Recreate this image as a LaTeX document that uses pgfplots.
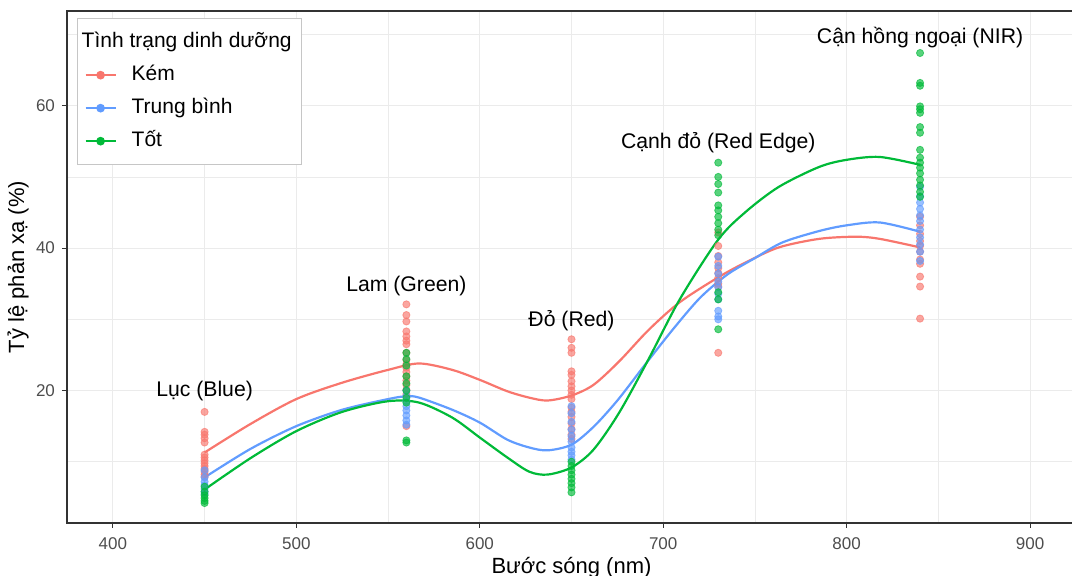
\documentclass[border=0pt]{standalone}
\usepackage{pgfplots}
\pgfplotsset{compat=1.18}
\usepackage{fontspec}
\setmainfont{Liberation Sans}

\definecolor{kem}{HTML}{F8766D}
\definecolor{tb}{HTML}{619CFF}
\definecolor{tot}{HTML}{00BA38}
\definecolor{gridc}{HTML}{EBEBEB}
\definecolor{framec}{HTML}{333333}
\definecolor{tickc}{HTML}{4D4D4D}

\begin{document}
\begin{tikzpicture}
\useasboundingbox (-33.5pt,-26.5pt) rectangle (502.5pt,261.5pt);
\begin{axis}[
    at={(0,0)}, anchor=south west,
    scale only axis,
    width=504.5pt, height=256pt,
    xmin=375, xmax=925,
    ymin=1.4, ymax=73.3,
    xtick={400,500,...,900},
    ytick={20,40,60},
    minor xtick={450,550,...,850},
    minor ytick={10,30,50,70},
    grid=both,
    major grid style={draw=gridc, line width=0.55pt},
    minor grid style={draw=gridc, line width=0.3pt},
    axis line style={draw=framec, line width=0.6pt},
    tick style={draw=framec, line width=0.55pt},
    major tick length=2.5pt, minor tick length=0pt,
    tick align=outside,
    xtick pos=lower, ytick pos=left,
    /pgf/number format/assume math mode=true,
    tick label style={font=\fontsize{8.5}{10}\selectfont, text=tickc},
    xticklabel style={yshift=-1.2pt},
    xlabel={Bước sóng (nm)},
    ylabel={Tỷ lệ phản xạ (\%)},
    label style={font=\fontsize{11}{13}\selectfont},
    xlabel style={at={(axis description cs:0.5,-0.0977)}, anchor=base},
    ylabel style={at={(axis description cs:-0.0426,0.5)}, anchor=base, rotate=0},
    legend style={at={(axis description cs:0.0099,0.986)}, anchor=north west,
        draw=gray!45, line width=0.5pt, fill=white,
        font=\fontsize{10.5}{12}\selectfont,
        inner xsep=3.5pt, inner ysep=5pt, row sep=3.0pt, column sep=6pt,
        nodes={inner sep=1.5pt, text height=0.8em, text depth=0.25em}},
    legend cell align=left,
    legend image code/.code={\draw[mark repeat=2,mark phase=2] plot coordinates {(0pt,0pt) (7.5pt,0pt) (15pt,0pt)};},
]
\addlegendimage{empty legend}
\addlegendentry{\hspace{-25pt}Tình trạng dinh dưỡng\hspace{3pt}}
\addlegendimage{kem, line width=1.1pt, mark=*, mark size=1.6pt}
\addlegendentry{Kém}
\addlegendimage{tb, line width=1.1pt, mark=*, mark size=1.6pt}
\addlegendentry{Trung bình}
\addlegendimage{tot, line width=1.1pt, mark=*, mark size=1.6pt}
\addlegendentry{Tốt}

% observed points
\addplot[kem, only marks, mark=*, mark size=1.8pt, forget plot,
    mark options={draw=kem, fill=kem, opacity=0.65}] coordinates {
    (450,17.0) (450,14.2) (450,13.8) (450,13.3) (450,12.7) (450,11.0) (450,10.6)
    (450,10.2) (450,9.8) (450,9.4) (450,9.0) (450,8.6) (450,8.2) (450,7.9)
    (560,32.1) (560,30.6) (560,29.7) (560,28.3) (560,27.6) (560,27.0) (560,26.5)
    (560,25.3) (560,24.3) (560,23.7) (560,23.2) (560,22.6) (560,22.0) (560,21.4)
    (560,20.8) (560,20.1) (560,19.5) (560,15.0)
    (650,27.2) (650,26.0) (650,25.3) (650,22.7) (650,22.2) (650,21.3) (650,20.6)
    (650,20.0) (650,19.4) (650,18.8) (650,17.6) (650,17.0) (650,16.3) (650,15.4)
    (650,14.6) (650,13.8) (650,13.2)
    (730,42.2) (730,40.3) (730,38.9) (730,38.0) (730,37.2) (730,36.5) (730,35.8)
    (730,35.0) (730,34.6) (730,25.3)
    (840,44.4) (840,43.2) (840,42.0) (840,41.0) (840,40.3) (840,39.5) (840,38.4)
    (840,37.8) (840,36.0) (840,34.6) (840,30.1)
};
\addplot[tb, only marks, mark=*, mark size=1.8pt, forget plot,
    mark options={draw=tb, fill=tb, opacity=0.65}] coordinates {
    (450,8.8) (450,7.8) (450,7.2) (450,6.7) (450,6.2) (450,5.8) (450,5.5)
    (560,20.0) (560,19.2) (560,18.5) (560,17.8) (560,17.2) (560,16.5) (560,15.8)
    (560,15.2)
    (650,17.8) (650,16.8) (650,15.6) (650,14.5) (650,13.6) (650,12.8) (650,12.0)
    (650,11.4) (650,10.9) (650,10.3)
    (730,38.8) (730,37.5) (730,36.4) (730,35.3) (730,34.5) (730,33.6) (730,32.8)
    (730,31.2) (730,30.4) (730,30.0)
    (840,48.6) (840,47.3) (840,46.4) (840,45.5) (840,44.6) (840,43.8) (840,42.6)
    (840,41.5) (840,40.5) (840,39.5) (840,38.2)
};
\addplot[tot, only marks, mark=*, mark size=1.8pt, forget plot,
    mark options={draw=tot, fill=tot, opacity=0.65}] coordinates {
    (450,6.5) (450,5.8) (450,5.3) (450,4.9) (450,4.5) (450,4.2)
    (560,25.3) (560,24.4) (560,23.5) (560,22.0) (560,21.0) (560,20.0) (560,19.0)
    (560,18.3) (560,13.0) (560,12.7)
    (650,10.0) (650,9.4) (650,8.8) (650,8.2) (650,7.6) (650,7.0) (650,6.4) (650,5.7)
    (730,52.0) (730,50.0) (730,49.0) (730,47.8) (730,46.0) (730,45.3) (730,44.4)
    (730,43.5) (730,42.6) (730,41.8) (730,33.8) (730,32.8) (730,28.6)
    (840,67.4) (840,63.2) (840,62.8) (840,59.9) (840,59.5) (840,59.0) (840,57.0)
    (840,56.2) (840,53.8) (840,52.7) (840,52.0) (840,51.3) (840,50.5) (840,49.6)
    (840,48.8) (840,47.9) (840,47.2)
};

% smoothed trends
\addplot[kem, line width=1.1pt, smooth, forget plot] coordinates {
    (450,11.3) (475,15.3) (500,18.8) (525,21.1) (550,22.9) (567,23.8) (585,22.9)
    (600,21.5) (615,19.9) (627,19.0) (637,18.6) (650,19.3) (662,20.8) (676,24.1)
    (692,28.5) (709,32.4) (730,35.9) (745,38.0) (763,40.1) (785,41.3) (805,41.6)
    (818,41.3) (840,40.1)
};
\addplot[tb, line width=1.1pt, smooth, forget plot] coordinates {
    (450,7.8) (475,11.8) (500,15.0) (525,17.3) (550,18.8) (560,19.2) (567,19.0)
    (585,17.3) (600,15.5) (615,13.1) (627,12.0) (637,11.6) (650,12.4) (662,14.9)
    (675,18.6) (690,23.6) (705,28.5) (720,33.0) (735,36.3) (750,38.6) (765,40.8)
    (785,42.4) (800,43.2) (818,43.6) (840,42.3)
};
\addplot[tot, line width=1.1pt, smooth, forget plot] coordinates {
    (450,6.1) (475,10.5) (500,14.3) (525,17.0) (550,18.5) (567,18.3) (585,16.2)
    (600,13.4) (615,10.6) (627,8.6) (637,8.2) (650,9.2) (662,11.7) (676,16.9)
    (692,24.4) (709,32.8) (730,41.2) (745,45.1) (763,48.6) (785,51.4) (800,52.4)
    (818,52.8) (840,51.7)
};

\begin{scope}[font=\fontsize{10.6}{12}\selectfont]
\node at (axis cs:450,20.0) {Lục (Blue)};
\node at (axis cs:560,34.7) {Lam (Green)};
\node at (axis cs:650,29.8) {Đỏ (Red)};
\node at (axis cs:730,54.8) {Cạnh đỏ (Red Edge)};
\node at (axis cs:840,69.5) {Cận hồng ngoại (NIR)};
\end{scope}
\end{axis}
\end{tikzpicture}
\end{document}
